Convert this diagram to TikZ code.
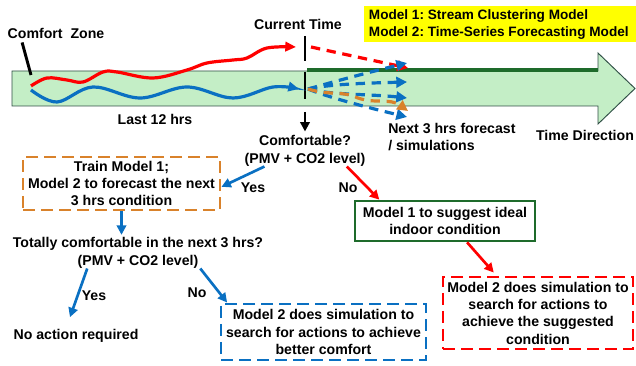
\documentclass[tikz,border=0pt]{standalone}
\usepackage{fontspec}
\setmainfont{Liberation Sans}
\usetikzlibrary{arrows.meta}
\frenchspacing

\definecolor{zonegreen}{HTML}{C4EEC6}
\definecolor{baredge}{HTML}{2F4F45}
\definecolor{edgegreen}{HTML}{1E6B2B}
\definecolor{mblue}{HTML}{0A70C2}
\definecolor{morange}{HTML}{D9822B}
\definecolor{mred}{HTML}{FF0000}
\definecolor{myellow}{HTML}{FFFF00}

\newcommand*{\tnow}{305}
\newcommand*{\bartop}{71}
\newcommand*{\barbot}{106}

\begin{document}
\begin{tikzpicture}
[
	x=0.75pt, y=-0.75pt,
	every node/.style={font=\fontsize{10.6}{13}\selectfont\bfseries, inner sep=0pt, align=center},
	dashbox/.style={draw, line width=2.2pt, dash pattern=on 9pt off 4.5pt},
	flowarr/.style={-{Triangle[length=7pt,width=7pt]}, line width=2pt},
	wavearr/.style={-{Triangle[length=8pt,width=7pt]}, line width=2.4pt},
	fcarr/.style={-{Triangle[length=8pt,width=8pt]}, line width=2.4pt, dash pattern=on 7pt off 5pt, mblue}
]

	\useasboundingbox (0,0) rectangle (636,366);

	% time bar
	\draw[fill=zonegreen, draw=baredge, line width=0.7pt] (12,\bartop) -- (598,\bartop) -- (598,53) -- (635,88.5) -- (598,124) -- (598,\barbot) -- (12,\barbot) -- cycle;
	\draw[edgegreen, line width=2.4pt] (\tnow+2,70) -- (598,70);

	% current time
	\draw[line width=2.2pt] (\tnow,36) -- (\tnow,61);
	\draw[line width=2.2pt] (\tnow,72) -- (\tnow,99);
	\coordinate (nowbot) at (\tnow,112);
	\coordinate (fan) at (\tnow+3,89);

	% labels on the bar
	\node (now) at (298,24) {Current Time};
	\node (zone) at (56,33) {Comfort\ \ Zone};
	\node (last) at (155,119) {Last 12 hrs};
	\node[anchor=west, align=left] (next) at (388,137) {Next 3 hrs forecast\\/ simulations};
	\node (tdir) at (585,135) {Time Direction};
	\node[fill=myellow, anchor=north west, minimum width=204pt, minimum height=27pt] (legend) at (364,6) {};
	\node[anchor=west, align=left, font=\fontsize{10.2}{12.5}\selectfont\bfseries] (models) at ([xshift=3.5pt]legend.west) {Model 1: Stream Clustering Model\\Model 2: Time-Series Forecasting Model};

	\draw[line width=2.2pt] ([xshift=11pt,yshift=-3pt]zone.south west) -- (31,75);

	% past data
	\draw[wavearr, mred] plot[smooth, tension=0.6] coordinates {(31,86) (47,78) (67,80) (83,82) (103,72) (117,72) (153,78) (187,70) (207,63) (233,60) (247,58) (267,48) (296,47)};
	\draw[wavearr, mblue] plot[smooth, tension=0.6] coordinates {(31,90) (57,102) (93,87) (140,98) (187,87) (233,98) (273,87) (299,89)};

	% forecasts
	\draw[fcarr, mred] (\tnow+6,47) -- (408,68);
	\draw[fcarr] (fan) .. controls (340,80) and (370,72) .. (407,63);
	\draw[fcarr] (fan) .. controls (330,84) and (370,83) .. (407,82);
	\draw[fcarr] (fan) .. controls (330,95) and (370,94) .. (407,98);
	\draw[fcarr] (fan) .. controls (330,98) and (370,108) .. (407,117);
	\draw[fcarr, morange] (fan) .. controls (330,96) and (340,90) .. (358,98) .. controls (375,104) and (390,98) .. (408,111);

	% decisions
	\node (comf) at (305,151) {Comfortable?\\(PMV + CO2 level)};
	\node[dashbox, draw=morange, minimum width=147.75pt, minimum height=39.75pt] (train) at (121.5,183.5) {Train Model 1;\\Model 2 to forecast the next\\3 hrs condition};
	\node[draw=edgegreen, line width=2pt, minimum width=135pt, minimum height=30pt] (ideal) at (445,221) {Model 1 to suggest ideal\\indoor condition};
	\node[dashbox, draw=mred, minimum width=142.5pt, minimum height=54pt] (sugg) at (538,313) {Model 2 does simulation to\\search for actions to\\achieve the suggested\\condition};
	\node (total) at (138,253) {Totally comfortable in the next 3 hrs?\\(PMV + CO2 level)};
	\node (noact) at (76,336) {No action required};
	\node[dashbox, draw=mblue, minimum width=153.75pt, minimum height=42pt] (better) at (323.5,332) {Model 2 does simulation to\\search for actions to achieve\\better comfort};

	\node (yes1) at (253,188) {Yes};
	\node (no1) at (348,188) {No};
	\node (yes2) at (94,296) {Yes};
	\node (no2) at (197,293) {No};

	% flow
	\draw[flowarr] (nowbot) -- ([yshift=3pt]comf.north);
	\draw[flowarr, mblue] ([xshift=15pt]comf.south west) -- ([yshift=-2.5pt]train.east);
	\draw[flowarr, mred] ([xshift=-14pt]comf.south east) -- (ideal.162);
	\draw[flowarr, mred, shorten >=3pt] (ideal.-44) -- (sugg.138);
	\draw[flowarr, mblue, shorten >=2pt] (train.south) -- (train.south |- total.north);
	\draw[flowarr, mblue] (total.197) -- ([xshift=-4.5pt,yshift=9pt]noact.north);
	\draw[flowarr, mblue] (total.-14) -- (better.163);

\end{tikzpicture}
\end{document}
